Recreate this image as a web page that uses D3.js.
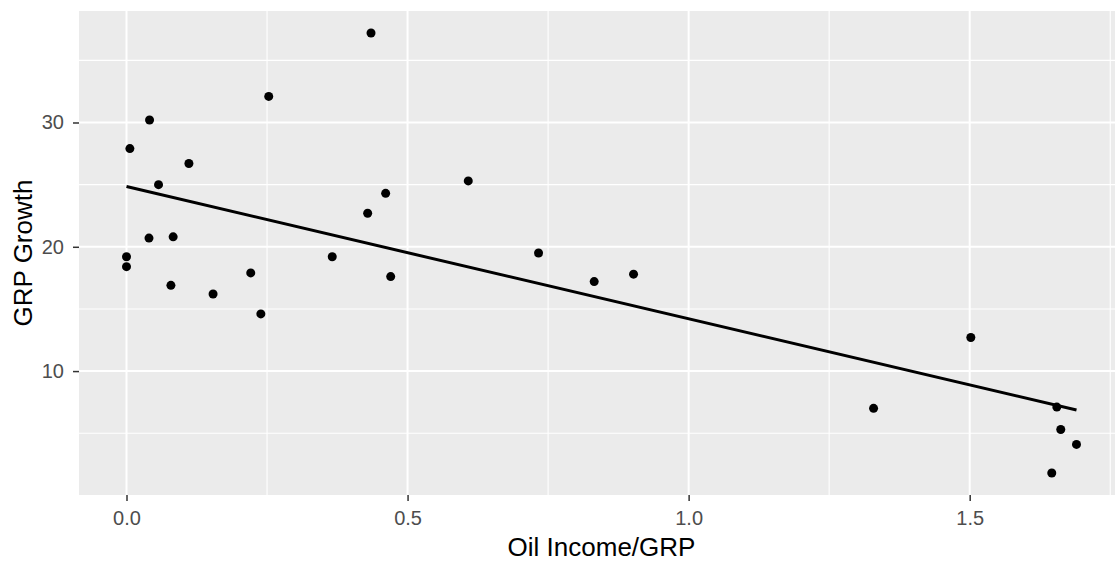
<!DOCTYPE html>
<html>
<head>
<meta charset="utf-8">
<script src="https://cdn.jsdelivr.net/npm/d3@7"></script>
<style>
    body { margin: 0; background: #ffffff; }
    text { font-family: "Liberation Sans", Arial, sans-serif; }
</style>
</head>
<body>
<div id="chart-area"></div>
<script>
// oil income / GRP (x) and GRP growth (y)
let oilIncome = [0.000, 0.000, 0.006, 0.041, 0.040, 0.057, 0.079, 0.083, 0.111, 0.154,
    0.221, 0.239, 0.253, 0.366, 0.429, 0.435, 0.461, 0.470, 0.608, 0.733,
    0.832, 0.902, 1.329, 1.502, 1.655, 1.662, 1.690, 1.646];
let grpGrowth = [19.2, 18.4, 27.9, 30.2, 20.7, 25.0, 16.9, 20.8, 26.7, 16.2,
    17.9, 14.6, 32.1, 19.2, 22.7, 37.2, 24.3, 17.6, 25.3, 19.5,
    17.2, 17.8, 7.0, 12.7, 7.1, 5.3, 4.1, 1.8];

let xMajor = [0, 0.5, 1.0, 1.5];
let xMinor = [0.25, 0.75, 1.25, 1.75];
let yMajor = [10, 20, 30];
let yMinor = [5, 15, 25, 35];

class scatterVis {
    constructor(parentElement) {
        this.parentElement = parentElement;
        this.data = oilIncome.map((x, i) => ({x: x, y: grpGrowth[i]}));
        this.initVis();
    }

    initVis() {
        let vis = this;

        // the panel runs a little past the right edge of the picture
        vis.margin = {top: 11, right: -9, bottom: 68, left: 79};
        vis.width = 1115 - vis.margin.left - vis.margin.right;
        vis.height = 563 - vis.margin.top - vis.margin.bottom;

        vis.svg = d3.select("#" + vis.parentElement).append("svg")
            .attr("width", 1115)
            .attr("height", 563)
            .style("display", "block")
            .append("g")
            .attr("transform", `translate(${vis.margin.left}, ${vis.margin.top})`);

        // ggplot style 5% expansion of the data range
        let xExt = d3.extent(vis.data, d => d.x);
        let yExt = d3.extent(vis.data, d => d.y);
        let xPad = (xExt[1] - xExt[0]) * 0.05;
        let yPad = (yExt[1] - yExt[0]) * 0.05;

        vis.x = d3.scaleLinear()
            .domain([xExt[0] - xPad, xExt[1] + xPad])
            .range([0, vis.width]);
        vis.y = d3.scaleLinear()
            .domain([yExt[0] - yPad, yExt[1] + yPad])
            .range([vis.height, 0]);

        // panel
        vis.svg.append("rect")
            .attr("width", vis.width)
            .attr("height", vis.height)
            .attr("fill", "#ebebeb");

        // grid lines
        vis.svg.selectAll(".grid-minor-x").data(xMinor).enter().append("line")
            .attr("x1", d => vis.x(d)).attr("x2", d => vis.x(d))
            .attr("y1", 0).attr("y2", vis.height)
            .attr("stroke", "#ffffff").attr("stroke-width", 1.1);
        vis.svg.selectAll(".grid-minor-y").data(yMinor).enter().append("line")
            .attr("y1", d => vis.y(d)).attr("y2", d => vis.y(d))
            .attr("x1", 0).attr("x2", vis.width)
            .attr("stroke", "#ffffff").attr("stroke-width", 1.1);
        vis.svg.selectAll(".grid-major-x").data(xMajor).enter().append("line")
            .attr("x1", d => vis.x(d)).attr("x2", d => vis.x(d))
            .attr("y1", 0).attr("y2", vis.height)
            .attr("stroke", "#ffffff").attr("stroke-width", 2);
        vis.svg.selectAll(".grid-major-y").data(yMajor).enter().append("line")
            .attr("y1", d => vis.y(d)).attr("y2", d => vis.y(d))
            .attr("x1", 0).attr("x2", vis.width)
            .attr("stroke", "#ffffff").attr("stroke-width", 2);

        // axes
        let xAxis = d3.axisBottom(vis.x).tickValues(xMajor).tickFormat(d3.format(".1f"))
            .tickSize(6).tickPadding(10);
        let yAxis = d3.axisLeft(vis.y).tickValues(yMajor).tickFormat(d3.format("d"))
            .tickSize(6).tickPadding(9);

        let gx = vis.svg.append("g")
            .attr("transform", `translate(0, ${vis.height})`)
            .call(xAxis);
        let gy = vis.svg.append("g").call(yAxis);

        [gx, gy].forEach(g => {
            g.select(".domain").remove();
            g.selectAll(".tick line").attr("stroke", "#333333").attr("stroke-width", 1.5);
            g.selectAll(".tick text")
                .attr("fill", "#4d4d4d")
                .style("font-size", "20px");
        });
        gx.selectAll(".tick text").attr("dy", "0.71em");

        // linear fit (least squares, like geom_smooth(method = lm))
        let mx = d3.mean(vis.data, d => d.x);
        let my = d3.mean(vis.data, d => d.y);
        let slope = d3.sum(vis.data, d => (d.x - mx) * (d.y - my)) / d3.sum(vis.data, d => (d.x - mx) ** 2);
        let icpt = my - slope * mx;
        let fitLine = xExt.map(x => ({x: x, y: icpt + slope * x}));

        vis.svg.append("path")
            .datum(fitLine)
            .attr("fill", "none")
            .attr("stroke", "#000000")
            .attr("stroke-width", 3)
            .attr("d", d3.line().x(d => vis.x(d.x)).y(d => vis.y(d.y)));

        // points
        vis.svg.selectAll(".point").data(vis.data).enter().append("circle")
            .attr("class", "point")
            .attr("cx", d => vis.x(d.x))
            .attr("cy", d => vis.y(d.y))
            .attr("r", 4.5)
            .attr("fill", "#000000");

        // axis titles, centred on the panel like ggplot does
        vis.svg.append("text")
            .attr("x", vis.width / 2)
            .attr("y", 556 - vis.margin.top)
            .attr("text-anchor", "middle")
            .style("font-size", "26px")
            .attr("fill", "#000000")
            .text("Oil Income/GRP");

        vis.svg.append("text")
            .attr("transform", `translate(${31.5 - vis.margin.left}, ${vis.height / 2}) rotate(-90)`)
            .attr("text-anchor", "middle")
            .style("font-size", "26px")
            .attr("fill", "#000000")
            .text("GRP Growth");
    }
}

new scatterVis("chart-area");
</script>
</body>
</html>
